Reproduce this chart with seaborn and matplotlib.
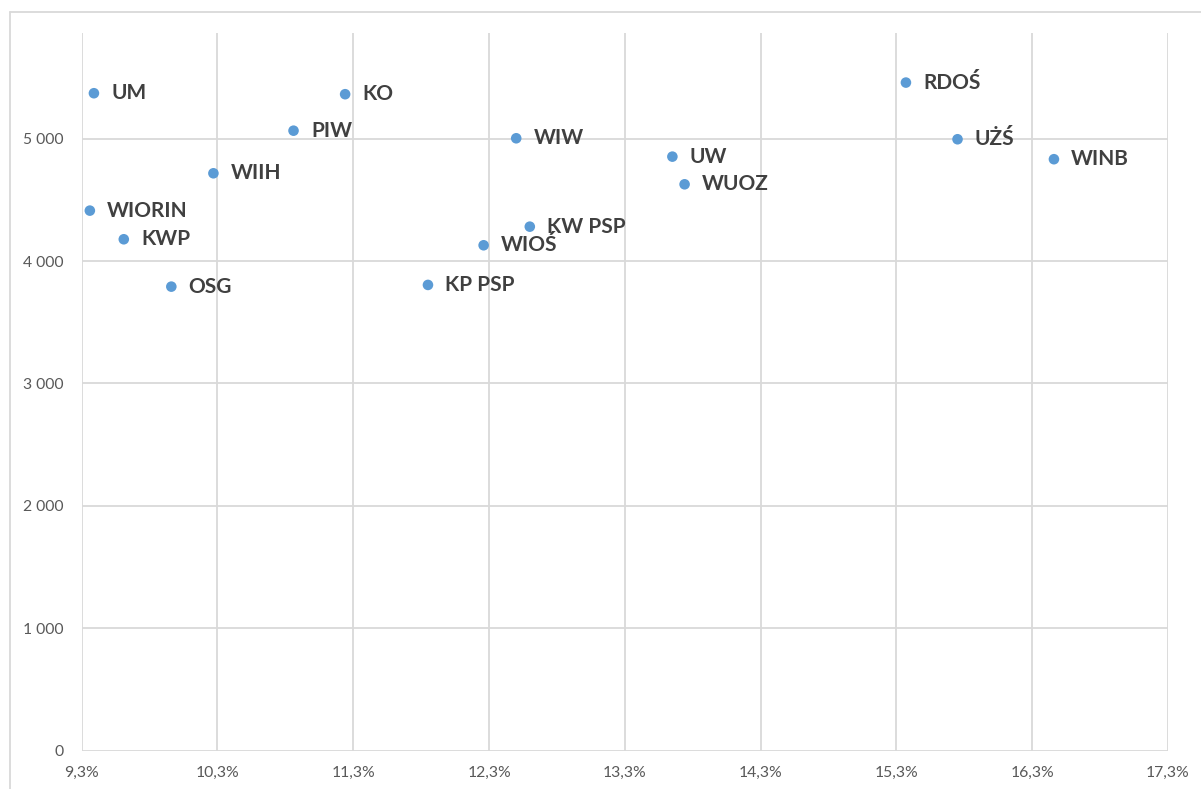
import matplotlib
matplotlib.use("Agg")
import matplotlib.pyplot as plt
import matplotlib.ticker as mticker
from matplotlib.lines import Line2D
import seaborn as sns
import pandas as pd

# ---- data ----
labels = ["UM", "KO", "PIW", "WIIH", "WIORIN", "KWP", "OSG",
          "WIW", "UW", "WUOZ", "KW PSP", "WIOŚ", "KP PSP",
          "RDOŚ", "UŻŚ", "WINB"]
share_pct = [9.39, 11.24, 10.86, 10.27, 9.36, 9.61, 9.96,
             12.50, 13.65, 13.74, 12.60, 12.26, 11.85,
             15.37, 15.75, 16.46]
salary = [5371, 5363, 5065, 4717, 4412, 4178, 3791,
          5003, 4853, 4627, 4281, 4129, 3805,
          5458, 4995, 4832]
x_ticks = [9.3, 10.3, 11.3, 12.3, 13.3, 14.3, 15.3, 16.3, 17.3]
y_ticks = [0, 1000, 2000, 3000, 4000, 5000]

df = pd.DataFrame({"label": labels, "x": share_pct, "y": salary})

sns.set_theme(style="white")
plt.rcParams["font.family"] = ["Lato", "DejaVu Sans"]

fig = plt.figure(figsize=(12.01, 7.89), dpi=100)
ax = fig.add_axes([81.7 / 1201, 1 - 750.7 / 789, (1168 - 81.7) / 1201, (750.7 - 33) / 789])

sns.scatterplot(data=df, x="x", y="y", ax=ax, color="#5B9BD5", s=58,
                edgecolor="none", zorder=3)

for lab, xv, yv in zip(df["label"], df["x"], df["y"]):
    ax.annotate(lab, (xv, yv), xytext=(12.5, 0), textcoords="offset points",
                ha="left", va="center", fontsize=15, fontweight="bold",
                color="#404040", zorder=4)

ax.set_xlim(9.3, 17.3)
ax.set_ylim(0, 5863)
ax.set_xticks(x_ticks)
ax.set_yticks(y_ticks)
ax.xaxis.set_major_formatter(mticker.FuncFormatter(lambda v, p: f"{v:.1f}%".replace(".", ",")))
ax.yaxis.set_major_formatter(mticker.FuncFormatter(
    lambda v, p: f"{int(round(v)):,}".replace(",", " ")))
ax.tick_params(axis="both", length=0, labelsize=11.3, labelcolor="#595959")
ax.tick_params(axis="y", pad=13)
ax.tick_params(axis="x", pad=11)
ax.set_xlabel("")
ax.set_ylabel("")

ax.grid(True, color="#D9D9D9", linewidth=1.3)
ax.set_axisbelow(True)
for s in ax.spines.values():
    s.set_visible(False)

# outer chart border (top and left)
fig.add_artist(Line2D([10 / 1201, 1], [1 - 12 / 789, 1 - 12 / 789],
                      transform=fig.transFigure, color="#D9D9D9", linewidth=1.3))
fig.add_artist(Line2D([10 / 1201, 10 / 1201], [0, 1 - 12 / 789],
                      transform=fig.transFigure, color="#D9D9D9", linewidth=1.3))

fig.savefig("out.png", dpi=100, facecolor="white")
